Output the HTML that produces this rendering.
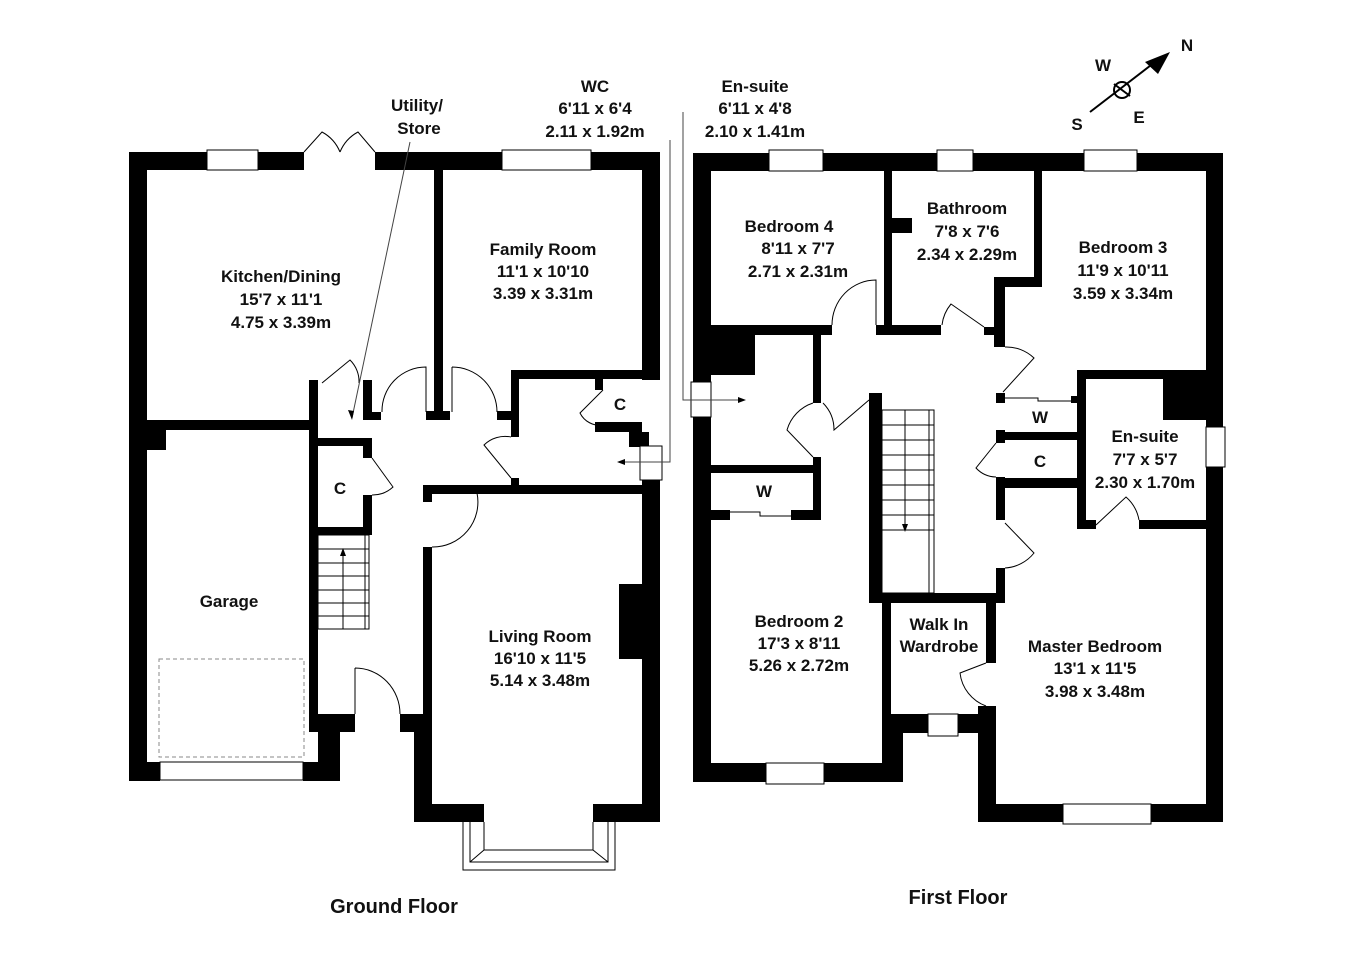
<!DOCTYPE html>
<html><head><style>
html,body{margin:0;padding:0;background:#fff}
svg{display:block}
text{font-family:"Liberation Sans",Arial,sans-serif;font-weight:bold;font-size:17px;fill:#111;text-anchor:middle}
</style></head><body>
<svg width="1350" height="954" viewBox="0 0 1350 954" xmlns="http://www.w3.org/2000/svg">
<g fill="#000">
<!-- Ground floor outer -->
<rect x="129" y="152" width="78" height="18"/>
<rect x="258" y="152" width="46" height="18"/>
<rect x="375" y="152" width="127" height="18"/>
<rect x="591" y="152" width="69" height="18"/>
<rect x="129" y="152" width="18" height="629"/>
<rect x="642" y="152" width="18" height="228"/>
<rect x="129" y="762" width="31" height="19"/>
<rect x="303" y="762" width="37" height="19"/>
<rect x="318" y="732" width="22" height="49"/>
<rect x="318" y="714" width="37" height="18"/>
<rect x="309" y="380" width="9" height="352"/>
<!-- kitchen/garage divide -->
<rect x="129" y="420" width="189" height="10"/>
<rect x="147" y="430" width="19" height="20"/>
<rect x="318" y="438" width="54" height="8"/>
<rect x="318" y="527" width="54" height="8"/>
<rect x="363" y="380" width="9" height="32"/>
<rect x="363" y="412" width="18" height="8"/>
<rect x="363" y="446" width="9" height="12"/>
<rect x="363" y="495" width="9" height="40"/>
<!-- family room partition -->
<rect x="434" y="170" width="9" height="250"/>
<rect x="426" y="411" width="24" height="9"/>
<rect x="497" y="411" width="14" height="9"/>
<!-- WC -->
<rect x="511" y="370" width="149" height="9"/>
<rect x="511" y="370" width="8" height="67"/>
<rect x="511" y="478" width="8" height="8"/>
<rect x="595" y="379" width="8" height="11"/>
<rect x="595" y="422" width="47" height="10"/>
<rect x="629" y="432" width="20" height="15"/>
<rect x="642" y="480" width="18" height="14"/>
<!-- living room -->
<rect x="423" y="485" width="237" height="9"/>
<rect x="423" y="485" width="9" height="17"/>
<rect x="423" y="547" width="9" height="275"/>
<rect x="400" y="714" width="32" height="18"/>
<rect x="414" y="714" width="18" height="108"/>
<rect x="414" y="804" width="70" height="18"/>
<rect x="593" y="804" width="67" height="18"/>
<rect x="642" y="494" width="18" height="328"/>
<rect x="619" y="584" width="23" height="75"/>

<!-- First floor outer -->
<rect x="693" y="153" width="76" height="18"/>
<rect x="823" y="153" width="114" height="18"/>
<rect x="973" y="153" width="111" height="18"/>
<rect x="1137" y="153" width="86" height="18"/>
<rect x="693" y="153" width="18" height="229"/>
<rect x="693" y="417" width="18" height="365"/>
<rect x="693" y="763" width="73" height="19"/>
<rect x="824" y="763" width="79" height="19"/>
<rect x="882" y="714" width="21" height="68"/>
<rect x="1206" y="153" width="17" height="274"/>
<rect x="1206" y="467" width="17" height="355"/>
<rect x="978" y="706" width="18" height="116"/>
<rect x="978" y="804" width="85" height="18"/>
<rect x="1151" y="804" width="72" height="18"/>
<!-- bedroom 4 / bathroom -->
<rect x="711" y="325" width="121" height="10"/>
<rect x="711" y="335" width="44" height="40"/>
<rect x="876" y="325" width="65" height="10"/>
<rect x="884" y="171" width="8" height="160"/>
<rect x="892" y="218" width="20" height="15"/>
<rect x="1034" y="171" width="8" height="116"/>
<rect x="994" y="277" width="48" height="10"/>
<rect x="994" y="277" width="11" height="70"/>
<rect x="984" y="327" width="12" height="8"/>
<!-- left middle -->
<rect x="813" y="335" width="8" height="68"/>
<rect x="813" y="395" width="8" height="8"/>
<rect x="813" y="457" width="8" height="53"/>
<rect x="711" y="465" width="110" height="8"/>
<rect x="711" y="510" width="19" height="10"/>
<rect x="791" y="510" width="30" height="10"/>
<!-- stairs walls -->
<rect x="869" y="393" width="13" height="210"/>
<rect x="869" y="593" width="136" height="10"/>
<rect x="882" y="603" width="9" height="111"/>
<rect x="986" y="603" width="10" height="60"/>
<rect x="882" y="714" width="46" height="19"/>
<rect x="958" y="714" width="38" height="19"/>
<!-- landing right -->
<rect x="996" y="393" width="9" height="10"/>
<rect x="996" y="430" width="9" height="13"/>
<rect x="996" y="477" width="9" height="43"/>
<rect x="996" y="568" width="9" height="35"/>
<rect x="1005" y="432" width="73" height="8"/>
<rect x="1005" y="478" width="73" height="10"/>
<rect x="1071" y="396" width="7" height="7"/>
<rect x="1077" y="370" width="9" height="159"/>
<rect x="1077" y="370" width="146" height="9"/>
<rect x="1163" y="379" width="43" height="41"/>
<rect x="1077" y="520" width="19" height="9"/>
<rect x="1139" y="520" width="84" height="9"/>
</g>
<g fill="none" stroke="#000" stroke-width="1">
<!-- windows -->
<rect x="207" y="150" width="51" height="20" fill="#fff"/>
<rect x="502" y="150" width="89" height="20" fill="#fff"/>
<rect x="160" y="762" width="143" height="18" fill="#fff"/>
<rect x="640" y="446" width="22" height="34" fill="#fff"/>
<rect x="769" y="150" width="54" height="21" fill="#fff"/>
<rect x="937" y="150" width="36" height="21" fill="#fff"/>
<rect x="1084" y="150" width="53" height="21" fill="#fff"/>
<rect x="691" y="382" width="20" height="35" fill="#fff"/>
<rect x="1206" y="427" width="19" height="40" fill="#fff"/>
<rect x="766" y="763" width="58" height="21" fill="#fff"/>
<rect x="928" y="714" width="30" height="22" fill="#fff"/>
<rect x="1063" y="804" width="88" height="20" fill="#fff"/>
<path d="M463 822 L463 870 L615 870 L615 822 M470 822 L470 862 L608 862 L608 822 M484 822 L484 850 L593 850 L593 822 M470 862 L484 850 M608 862 L593 850"/>
<!-- garage dashed -->
<rect x="159" y="659" width="145" height="98" stroke="#888" stroke-dasharray="4,3"/>
<!-- stairs ground -->
<rect x="318" y="535" width="51" height="94"/>
<path d="M318 549h51M318 563h51M318 576h51M318 590h51M318 603h51M318 616h51M343 555v74M365 535v94"/>
<!-- stairs first -->
<rect x="882" y="410" width="52" height="183"/>
<path d="M882 425h52M882 440h52M882 455h52M882 470h52M882 485h52M882 500h52M882 515h52M882 530h52M929 410v183M905 410v120"/>
<!-- door arcs -->
<path d="M304 152 L322 132 A40 40 0 0 1 340 152 M375 152 L358 132 A40 40 0 0 0 340 152"/>
<path d="M382 412 A44 44 0 0 1 426 367 L426 412"/>
<path d="M452 367 A45 45 0 0 1 497 412 M452 367 V412"/>
<path d="M322 383 L350 360 A30 30 0 0 1 359 383"/>
<path d="M372 458 L393 487 A30 30 0 0 1 372 495"/>
<path d="M432 493 L477 493 A45 45 0 0 1 432 547"/>
<path d="M355 668 V714 M355 668 A45 46 0 0 1 400 714"/>
<path d="M511 478 L484 445 A30 30 0 0 1 511 437"/>
<path d="M603 390 L580 413 A22 22 0 0 0 603 425"/>
<path d="M832 325 A44 45 0 0 1 876 280 L876 325"/>
<path d="M942 325 A40 40 0 0 1 951 304 L984 327"/>
<path d="M1005 347 A40 40 0 0 1 1034 358 L1003 392"/>
<path d="M869 400 L834 430 A38 38 0 0 0 823 403"/>
<path d="M813 403 A40 40 0 0 0 787 430 L813 457"/>
<path d="M996 443 L976 468 A28 28 0 0 0 996 477"/>
<path d="M1005 523 L1034 553 A40 40 0 0 1 1005 568"/>
<path d="M1096 525 L1126 497 A40 40 0 0 1 1139 520"/>
<path d="M986 663 L960 673 A40 40 0 0 0 986 706"/>
<path d="M730 512 h30 v4 h31 M1005 398 h33 v3 h33"/>
<!-- leaders -->
<path d="M410 142 L352 418" stroke="#444"/>
<path d="M670 140 L670 462 L620 462" stroke="#444"/>
<path d="M683 112 L683 400 L740 400" stroke="#444"/>
</g>
<g fill="#000">
<path d="M352 420 l-4 -10 l6 1z"/>
<path d="M617 462 l8 -3 v6z"/>
<path d="M746 400 l-8 -3 v6z"/>
<path d="M343 548 l-3 8 h6z"/>
<path d="M905 532 l-3 -8 h6z"/>
</g>
<!-- compass -->
<g stroke="#000" stroke-width="2" fill="none">
<line x1="1090" y1="112" x2="1155" y2="62"/>
<circle cx="1122" cy="90" r="8"/>
<line x1="1114" y1="84" x2="1130" y2="96"/>
</g>
<path d="M1170 52 L1145 62 L1158 74 Z" fill="#000"/>
<text x="1187" y="51">N</text>
<text x="1103" y="71">W</text>
<text x="1139" y="123">E</text>
<text x="1077" y="130">S</text>
<!-- labels -->
<text x="417" y="111">Utility/</text><text x="419" y="134">Store</text>
<text x="595" y="92">WC</text><text x="595" y="114">6'11 x 6'4</text><text x="595" y="137">2.11 x 1.92m</text>
<text x="755" y="92">En-suite</text><text x="755" y="114">6'11 x 4'8</text><text x="755" y="137">2.10 x 1.41m</text>
<text x="281" y="282">Kitchen/Dining</text><text x="281" y="305">15'7 x 11'1</text><text x="281" y="328">4.75 x 3.39m</text>
<text x="543" y="255">Family Room</text><text x="543" y="277">11'1 x 10'10</text><text x="543" y="299">3.39 x 3.31m</text>
<text x="620" y="410">C</text>
<text x="340" y="494">C</text>
<text x="229" y="607">Garage</text>
<text x="540" y="642">Living Room</text><text x="540" y="664">16'10 x 11'5</text><text x="540" y="686">5.14 x 3.48m</text>
<text x="789" y="232">Bedroom 4</text><text x="798" y="254">8'11 x 7'7</text><text x="798" y="277">2.71 x 2.31m</text>
<text x="967" y="214">Bathroom</text><text x="967" y="237">7'8 x 7'6</text><text x="967" y="260">2.34 x 2.29m</text>
<text x="1123" y="253">Bedroom 3</text><text x="1123" y="276">11'9 x 10'11</text><text x="1123" y="299">3.59 x 3.34m</text>
<text x="1040" y="423">W</text>
<text x="1040" y="467">C</text>
<text x="764" y="497">W</text>
<text x="1145" y="442">En-suite</text><text x="1145" y="465">7'7 x 5'7</text><text x="1145" y="488">2.30 x 1.70m</text>
<text x="799" y="627">Bedroom 2</text><text x="799" y="649">17'3 x 8'11</text><text x="799" y="671">5.26 x 2.72m</text>
<text x="939" y="630">Walk In</text><text x="939" y="652">Wardrobe</text>
<text x="1095" y="652">Master Bedroom</text><text x="1095" y="674">13'1 x 11'5</text><text x="1095" y="697">3.98 x 3.48m</text>
<text x="394" y="913" style="font-size:20px">Ground Floor</text>
<text x="958" y="904" style="font-size:20px">First Floor</text>
</svg>
</body></html>
